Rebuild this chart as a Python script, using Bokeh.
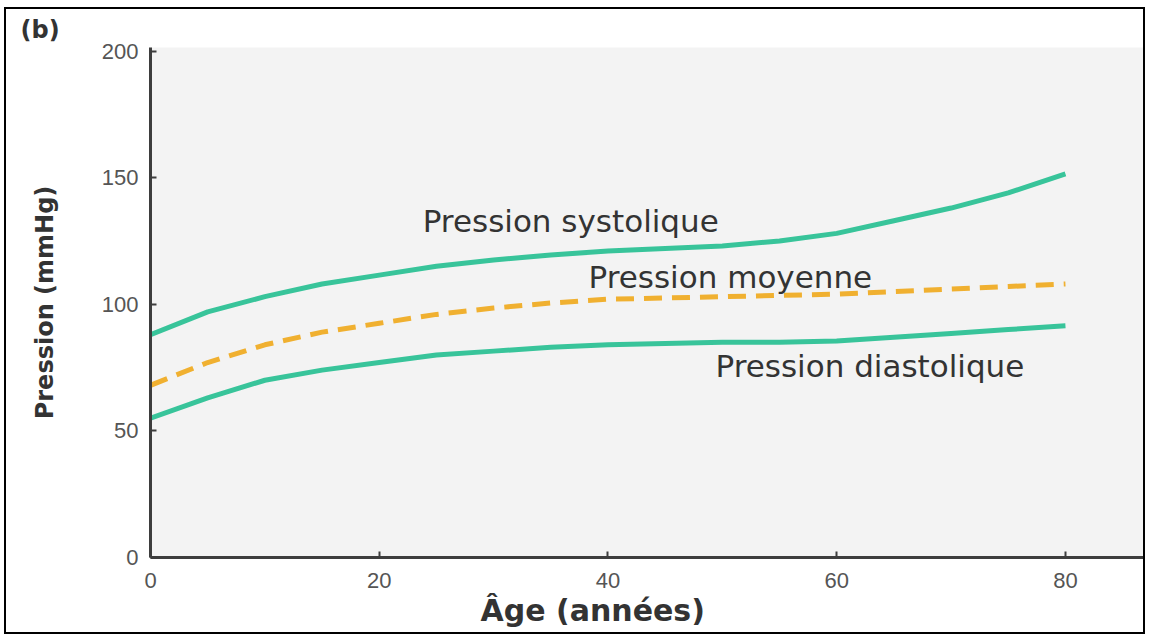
from bokeh.plotting import figure
from bokeh.models import Label, FixedTicker, Range1d, Title
from bokeh.embed import file_html
from bokeh.resources import INLINE

# Data
ages = [0, 5, 10, 15, 20, 25, 30, 35, 40, 45, 50, 55, 60, 65, 70, 75, 80]
systolique = [88, 97, 103, 108, 111.5, 115, 117.5, 119.5, 121, 122, 123, 125, 128, 133, 138, 144, 151.5]
moyenne = [68, 77, 84, 89, 92.5, 96, 98.5, 100.5, 102, 102.5, 103, 103.5, 104, 105, 106, 107, 108]
diastolique = [55, 63, 70, 74, 77, 80, 81.5, 83, 84, 84.5, 85, 85, 85.5, 87, 88.5, 90, 91.5]
x_ticks = [0, 20, 40, 60, 80]
y_ticks = [0, 50, 100, 150, 200]

GREEN = "#38c49a"
ORANGE = "#f0b030"

p = figure(width=1141, height=627, output_backend="svg", toolbar_location=None,
           x_range=Range1d(0, 87), y_range=Range1d(0, 201.4),
           min_border_left=144, min_border_right=2, min_border_top=38, min_border_bottom=79,
           background_fill_color="#f3f3f3", border_fill_color="white",
           margin=(7, 5, 2, 4),
           styles={"border": "2px solid black"})
p.outline_line_color = None
p.grid.visible = False

for ax in (p.xaxis[0], p.yaxis[0]):
    ax.axis_line_color = "#3d3d3d"
    ax.axis_line_width = 3
    ax.major_tick_line_color = "#3d3d3d"
    ax.major_tick_line_width = 2
    ax.major_tick_in = 6
    ax.major_tick_out = 0
    ax.minor_tick_line_color = None
    ax.major_label_text_font = "Liberation Sans"
    ax.major_label_text_font_size = "22px"
    ax.major_label_text_color = "#555555"

p.xaxis.ticker = FixedTicker(ticks=x_ticks)
p.yaxis.ticker = FixedTicker(ticks=y_ticks)
p.xaxis.major_label_standoff = 15
p.yaxis.major_label_standoff = 12

p.yaxis.axis_label = "Pression (mmHg)"
p.yaxis.axis_label_text_font = "DejaVu Sans"
p.yaxis.axis_label_text_font_style = "bold"
p.yaxis.axis_label_text_font_size = "24px"
p.yaxis.axis_label_text_color = "#333333"
p.yaxis.axis_label_standoff = 40

p.line(ages, systolique, line_color=GREEN, line_width=5)
p.line(ages, diastolique, line_color=GREEN, line_width=5)
p.line(ages, moyenne, line_color=ORANGE, line_width=5, line_dash="18 10")

lab_style = dict(text_font="DejaVu Sans", text_font_size="31px", text_color="#333333",
                 text_baseline="middle", text_align="left")
p.add_layout(Label(x=23.8, y=133, text="Pression systolique", **lab_style))
p.add_layout(Label(x=38.3, y=110.6, text="Pression moyenne", **lab_style))
p.add_layout(Label(x=49.4, y=75.8, text="Pression diastolique", **lab_style))

p.add_layout(Title(text="Âge (années)", align="left", offset=330, standoff=0,
                   text_font="DejaVu Sans", text_font_style="bold",
                   text_font_size="30px", text_color="#333333"), "below")
p.add_layout(Title(text="(b)", align="left", offset=-130, standoff=7,
                   text_font="DejaVu Sans", text_font_style="bold",
                   text_font_size="24px", text_color="#333333"), "above")

open("out.html", "w").write(file_html(p, INLINE))
